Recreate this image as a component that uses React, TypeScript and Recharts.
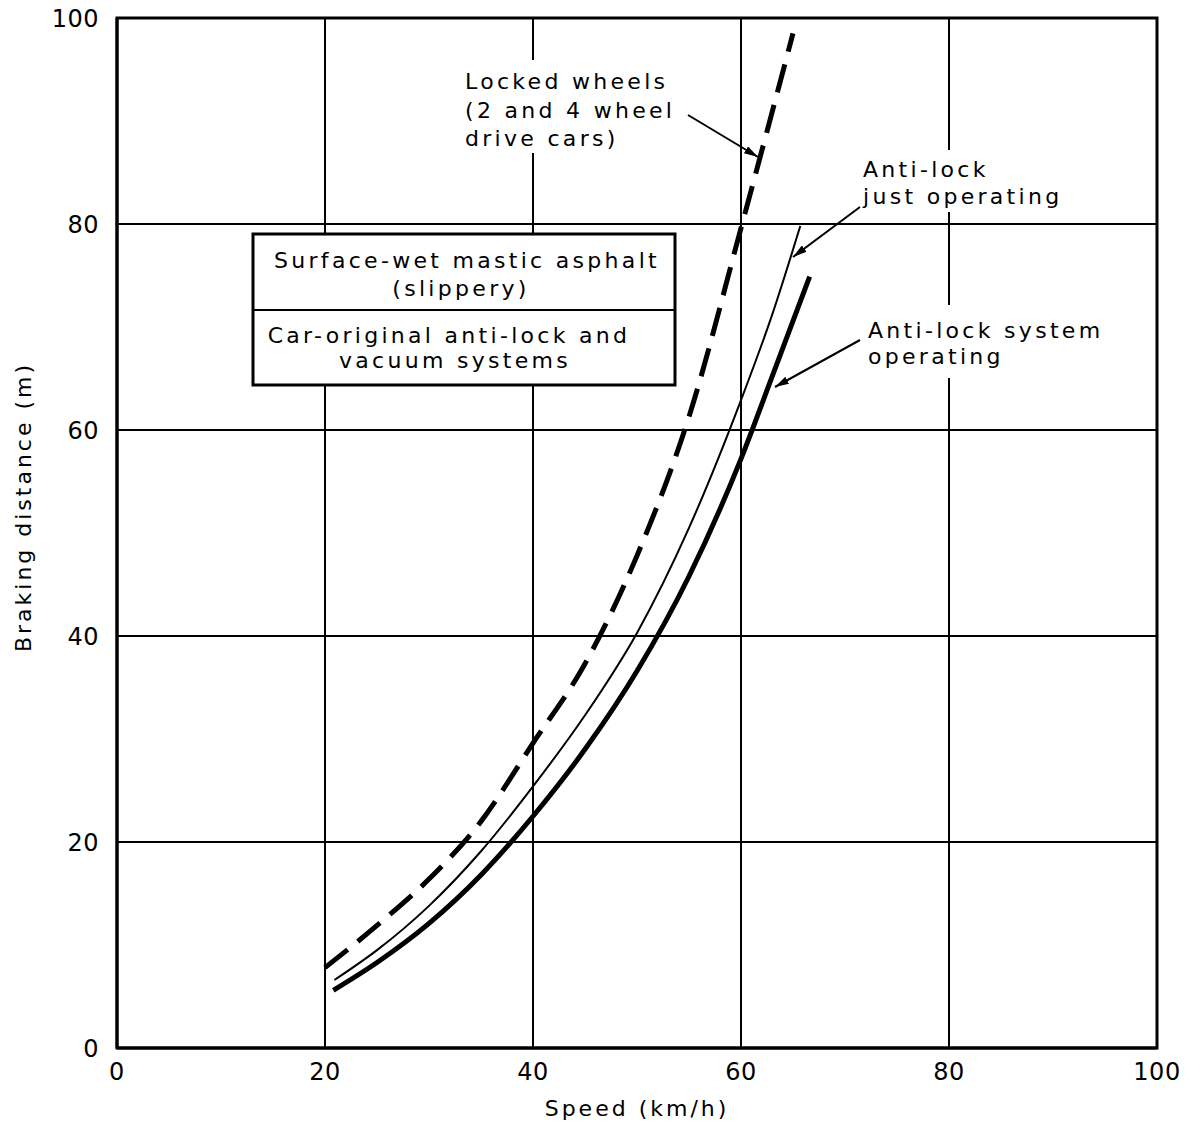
import { CartesianGrid, Label, Line, LineChart, ReferenceArea, XAxis, YAxis } from "recharts";

const FONT = "'DejaVu Sans', sans-serif";
const TICKS = [0, 20, 40, 60, 80, 100];

// Locked wheels (2 and 4 wheel drive cars) — dashed
const lockedSpeed = [20, 25, 30, 35, 40, 45, 50, 55, 60, 62.5, 65];
const lockedDist = [7.8, 11.9, 16.4, 22.0, 29.6, 37.3, 47.8, 61.3, 79.6, 89, 98.5];

// Anti-lock just operating — thin
const justSpeed = [20.9, 25, 30, 35, 40, 45, 50, 55, 60, 63, 65.7];
const justDist = [6.6, 9.5, 13.8, 19.1, 25.4, 32.3, 40.3, 50.5, 62.9, 71.2, 79.8];

// Anti-lock system operating — thick
const sysSpeed = [20.8, 25, 30, 35, 40, 45, 50, 55, 60, 63, 66.6];
const sysDist = [5.6, 8.3, 12.1, 16.8, 22.5, 29.0, 36.6, 45.8, 57.2, 65.2, 74.9];

const zip = (xs: number[], ys: number[]) => xs.map((speed, i) => ({ speed, dist: ys[i] }));

const SERIES = [
  { key: "locked", data: zip(lockedSpeed, lockedDist), width: 5, dash: "29 13" },
  { key: "just", data: zip(justSpeed, justDist), width: 2, dash: undefined },
  { key: "system", data: zip(sysSpeed, sysDist), width: 5, dash: undefined },
];

const txt = { fontFamily: FONT, fontSize: 22, letterSpacing: 3.3, fill: "#000" };

function Annotations() {
  return (
    <svg
      width={1199}
      height={1134}
      style={{ position: "absolute", left: 0, top: 0, pointerEvents: "none" }}
    >
      <defs>
        <marker
          id="arr"
          markerUnits="userSpaceOnUse"
          markerWidth={14}
          markerHeight={8}
          refX={14}
          refY={4}
          orient="auto"
        >
          <path d="M0,0 L14,4 L0,8 z" fill="#000" />
        </marker>
      </defs>

      {/* condition box */}
      <rect x={253} y={234} width={422} height={151} fill="#fff" stroke="#000" strokeWidth={3} />
      <line x1={253} x2={675} y1={310} y2={310} stroke="#000" strokeWidth={2} />
      <text {...txt} x={467} y={268} textAnchor="middle">Surface-wet mastic asphalt</text>
      <text {...txt} x={461} y={296} textAnchor="middle">(slippery)</text>
      <text {...txt} x={449} y={343} textAnchor="middle">Car-original anti-lock and</text>
      <text {...txt} x={455} y={368} textAnchor="middle">vacuum systems</text>

      {/* curve labels */}
      <rect x={458} y={60} width={234} height={93} fill="#fff" />
      <text {...txt} x={465} y={89}>Locked wheels</text>
      <text {...txt} x={465} y={118}>(2 and 4 wheel</text>
      <text {...txt} x={465} y={146}>drive cars)</text>
      <line x1={688} y1={115} x2={758} y2={157} stroke="#000" strokeWidth={2} markerEnd="url(#arr)" />

      <rect x={855} y={150} width={213} height={62} fill="#fff" />
      <text {...txt} x={863} y={177}>Anti-lock</text>
      <text {...txt} x={863} y={204}>just operating</text>
      <line x1={860} y1={207} x2={793} y2={257} stroke="#000" strokeWidth={2} markerEnd="url(#arr)" />

      <rect x={862} y={305} width={250} height={73} fill="#fff" />
      <text {...txt} x={868} y={338}>Anti-lock system</text>
      <text {...txt} x={868} y={364}>operating</text>
      <line x1={860} y1={340} x2={775} y2={387} stroke="#000" strokeWidth={2} markerEnd="url(#arr)" />
    </svg>
  );
}

export default function App() {
  const tick = { fill: "#000", fontSize: 24, fontFamily: FONT, letterSpacing: 0.5 };
  return (
    <div style={{ position: "absolute", left: 0, top: 0, width: 1199, height: 1134, background: "#fff" }}>
      <LineChart width={1199} height={1134} margin={{ top: 18, right: 42, left: 0, bottom: 0 }}>
        <CartesianGrid stroke="#000" strokeWidth={2} />
        <XAxis
          type="number"
          dataKey="speed"
          domain={[0, 100]}
          ticks={TICKS}
          interval={0}
          allowDataOverflow
          height={86}
          tickLine={false}
          tickMargin={9}
          axisLine={{ stroke: "#000", strokeWidth: 3 }}
          tick={tick}
        >
          <Label
            value="Speed (km/h)"
            position="insideBottom"
            offset={18}
            style={{ fill: "#000", fontSize: 22, fontFamily: FONT, letterSpacing: 3 }}
          />
        </XAxis>
        <YAxis
          type="number"
          domain={[0, 100]}
          ticks={TICKS}
          interval={0}
          allowDataOverflow
          width={117}
          tickLine={false}
          tickMargin={12}
          axisLine={{ stroke: "#000", strokeWidth: 3 }}
          tick={tick}
        >
          <Label
            content={() => (
              <text
                x={23}
                y={507}
                transform="rotate(-90 23 507)"
                textAnchor="middle"
                dominantBaseline="central"
                style={{ fill: "#000", fontSize: 22, fontFamily: FONT, letterSpacing: 3 }}
              >
                Braking distance (m)
              </text>
            )}
          />
        </YAxis>
        <ReferenceArea x1={0} x2={100} y1={0} y2={100} fill="none" stroke="#000" strokeWidth={3} />
        {SERIES.map((s) => (
          <Line
            key={s.key}
            data={s.data}
            dataKey="dist"
            type="monotone"
            stroke="#000"
            strokeWidth={s.width}
            strokeDasharray={s.dash}
            strokeLinecap="butt"
            dot={false}
            activeDot={false}
            isAnimationActive={false}
          />
        ))}
      </LineChart>
      <Annotations />
    </div>
  );
}
